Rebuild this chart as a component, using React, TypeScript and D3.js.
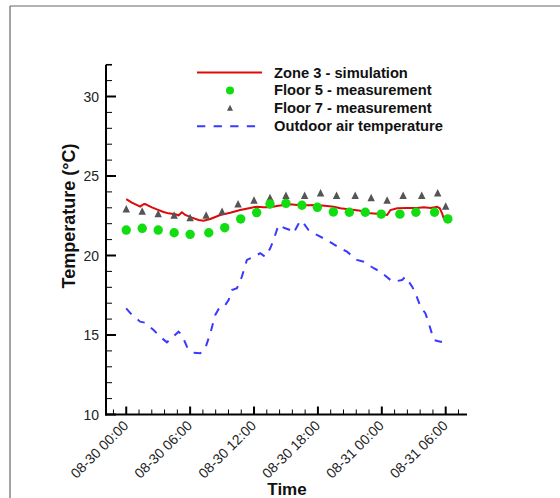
import React from "react";
import * as d3 from "d3";

// hours after 08-30 00:00
const xTickHours = [0, 6, 12, 18, 24, 30];
const xTickLabels = ["08-30 00:00", "08-30 06:00", "08-30 12:00", "08-30 18:00", "08-31 00:00", "08-31 06:00"];
const yTicks = [10, 15, 20, 25, 30];

const simHours = [0, 0.53, 1.31, 1.63, 1.78, 2.41, 2.88, 3.5, 3.97, 4.6, 4.91, 5.23, 5.54, 6.17, 6.79, 7.26, 7.89, 8.83, 9.77, 10.7, 11.64, 12.27, 12.9, 13.52, 14.15, 14.78, 15.4, 16.03, 16.34, 16.97, 17.91, 18.85, 19.48, 20.11, 21.05, 21.99, 22.93, 23.87, 24.5, 24.81, 25.44, 26.38, 27.31, 27.94, 28.57, 29.19, 29.44, 29.66, 29.82, 29.98];
const simValues = [23.55, 23.32, 23.07, 23.22, 23.24, 23.03, 22.9, 22.74, 22.65, 22.59, 22.53, 22.72, 22.55, 22.38, 22.23, 22.19, 22.3, 22.55, 22.69, 22.86, 22.99, 23.07, 23.03, 23.03, 23.11, 23.18, 23.22, 23.18, 23.24, 23.16, 23.18, 23.11, 23.07, 22.97, 22.9, 22.82, 22.65, 22.61, 22.55, 22.86, 22.97, 22.99, 22.99, 23.03, 22.99, 23.07, 22.97, 22.65, 22.34, 22.13];

const floor5Hours = [0, 1.5, 3, 4.5, 6, 7.75, 9.25, 10.75, 12.25, 13.5, 15, 16.5, 17.95, 19.45, 20.95, 22.45, 23.95, 25.7, 27.2, 28.95, 30.2];
const floor5Values = [21.6, 21.71, 21.6, 21.43, 21.33, 21.43, 21.75, 22.3, 22.7, 23.24, 23.28, 23.16, 23.03, 22.74, 22.72, 22.72, 22.6, 22.6, 22.72, 22.72, 22.3];

const floor7Hours = [0, 1.5, 3, 4.5, 6, 7.5, 9, 10.5, 12, 13.5, 15, 16.75, 18.25, 19.75, 21.5, 23, 24.5, 26, 27.75, 29.25, 30];
const floor7Values = [22.9, 22.75, 22.6, 22.5, 22.34, 22.5, 22.74, 23.2, 23.45, 23.6, 23.74, 23.74, 23.9, 23.74, 23.74, 23.6, 23.45, 23.74, 23.74, 23.9, 23.07];

const outdoorHours = [0, 0.4, 1.31, 1.78, 2.57, 3.19, 3.82, 4.13, 4.91, 5.23, 5.7, 6.32, 6.95, 7.42, 7.89, 8.36, 8.83, 9.3, 9.61, 9.93, 10.4, 10.86, 11.33, 11.96, 12.58, 13.05, 13.52, 13.83, 14.3, 14.93, 15.4, 15.71, 16.03, 16.34, 16.65, 17.12, 17.91, 18.85, 20.11, 20.73, 21.67, 22.3, 23.24, 23.87, 24.81, 25.12, 25.9, 26.22, 26.85, 27.16, 27.63, 28.1, 28.41, 28.88, 29.5, 29.66];
const outdoorValues = [16.68, 16.36, 15.84, 15.77, 15.31, 14.89, 14.54, 14.73, 15.21, 15.0, 14.26, 13.89, 13.85, 14.16, 15.1, 16.26, 16.82, 16.89, 17.2, 17.83, 17.94, 18.67, 19.72, 19.92, 20.14, 19.92, 20.45, 20.97, 21.92, 21.71, 21.6, 21.4, 21.81, 22.19, 22.03, 21.6, 21.29, 20.97, 20.45, 20.24, 19.72, 19.61, 19.2, 18.98, 18.46, 18.35, 18.46, 18.67, 18.04, 17.62, 16.78, 16.36, 15.74, 14.69, 14.58, 14.58];

const legendLabels = ["Zone 3 - simulation", "Floor 5 - measurement", "Floor 7 - measurement", "Outdoor air temperature"];

const RED = "#dd0a0a";
const GREEN = "#11dd11";
const GRAY = "#555555";
const BLUE = "#3a3aff";
const FONT = "'Liberation Sans', Arial, sans-serif";

export default function App() {
  const x = d3.scaleLinear().domain([-1.9, 32]).range([106, 467]);
  const y = d3.scaleLinear().domain([10, 32]).range([414.5, 64.7]);

  const line = d3.line<[number, number]>().x((d) => x(d[0])).y((d) => y(d[1]));
  const simPath = line(simHours.map((h, i) => [h, simValues[i]]) as [number, number][]) || "";
  const outPath = line(outdoorHours.map((h, i) => [h, outdoorValues[i]]) as [number, number][]) || "";

  const xMinor = d3.range(-1.2, 32, 1.2).filter((h) => Math.abs(h / 6 - Math.round(h / 6)) > 0.01);
  const yMinor = d3.range(11, 33, 1).filter((v) => v % 5 !== 0);

  const tri = (cx: number, cy: number, s: number) =>
    `M${cx},${cy - s * 0.6}L${cx + s / 2},${cy + s * 0.4}L${cx - s / 2},${cy + s * 0.4}Z`;

  const x0 = x.range()[0];
  const y0 = y.range()[0];
  const legX = 197, legTextX = 274, legY = 72.5, legDy = 17.9;

  return (
    <svg width={560} height={498} style={{ position: "fixed", left: 0, top: 0, background: "#fff" }} fontFamily={FONT}>
      <rect x={0} y={0} width={560} height={498} fill="#fff" />
      {/* outer frame */}
      <line x1={10} y1={6} x2={560} y2={6} stroke="#666" strokeWidth={1.2} />
      <line x1={10} y1={6} x2={10} y2={498} stroke="#666" strokeWidth={1.2} />

      {/* data */}
      <path d={outPath} fill="none" stroke={BLUE} strokeWidth={2} strokeDasharray="8,8" />
      <path d={simPath} fill="none" stroke={RED} strokeWidth={2} />
      {floor7Hours.map((h, i) => (
        <path key={"t" + i} d={tri(x(h), y(floor7Values[i]), 7.5)} fill={GRAY} />
      ))}
      {floor5Hours.map((h, i) => (
        <circle key={"c" + i} cx={x(h)} cy={y(floor5Values[i])} r={4.7} fill={GREEN} />
      ))}

      {/* axes */}
      <line x1={x0} y1={y.range()[1]} x2={x0} y2={y0 + 1} stroke="#000" strokeWidth={2} />
      <line x1={x0 - 1} y1={y0} x2={x.range()[1]} y2={y0} stroke="#000" strokeWidth={2} />
      <line x1={x0} y1={y.range()[1]} x2={x0 + 6} y2={y.range()[1]} stroke="#000" strokeWidth={1.5} />
      {yTicks.map((v) => (
        <g key={"yt" + v}>
          <line x1={x0} x2={x0 + 10} y1={y(v)} y2={y(v)} stroke="#000" strokeWidth={2} />
          <text x={99} y={y(v) + 5} textAnchor="end" fontSize={14} fill="#222">{v}</text>
        </g>
      ))}
      {yMinor.map((v) => (
        <line key={"ym" + v} x1={x0} x2={x0 + 6} y1={y(v)} y2={y(v)} stroke="#000" strokeWidth={1} />
      ))}
      {xTickHours.map((h, i) => (
        <g key={"xt" + h}>
          <line x1={x(h)} x2={x(h)} y1={y0} y2={y0 - 8} stroke="#000" strokeWidth={2} />
          <text
            transform={`translate(${x(h) + 3},${y0 + 12}) rotate(-45)`}
            textAnchor="end"
            fontSize={14}
            fill="#222"
          >
            {xTickLabels[i]}
          </text>
        </g>
      ))}
      {xMinor.map((h, i) => (
        <line key={"xm" + i} x1={x(h)} x2={x(h)} y1={y0} y2={y0 - 5} stroke="#000" strokeWidth={1} />
      ))}

      {/* axis titles */}
      <text transform={`translate(75,216) rotate(-90)`} textAnchor="middle" fontSize={18} fontWeight="bold" fill="#111">
        Temperature (°C)
      </text>
      <text x={287} y={495} textAnchor="middle" fontSize={17} fontWeight="bold" fill="#111">Time</text>

      {/* legend */}
      <line x1={legX} x2={262} y1={legY} y2={legY} stroke={RED} strokeWidth={2} />
      <circle cx={230} cy={legY + legDy} r={4} fill={GREEN} />
      <path d={tri(230, legY + legDy * 2, 6)} fill={GRAY} />
      <line x1={legX} x2={262} y1={legY + legDy * 3} y2={legY + legDy * 3} stroke={BLUE} strokeWidth={2} strokeDasharray="8.3,8.3" />
      {legendLabels.map((t, i) => (
        <text key={t} x={legTextX} y={legY + legDy * i + 5} fontSize={14.7} fontWeight="bold" fill="#111">{t}</text>
      ))}
    </svg>
  );
}
